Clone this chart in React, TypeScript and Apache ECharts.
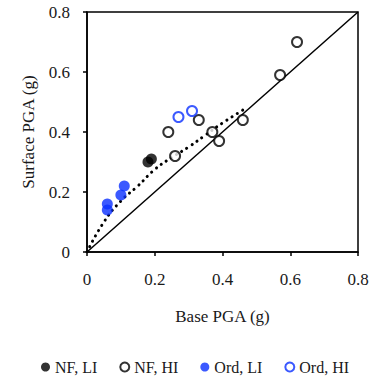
import React, { useEffect, useRef } from "react";
import * as echarts from "echarts";

const nfLI: number[][] = [[0.18, 0.30], [0.19, 0.31]];
const nfHI: number[][] = [
  [0.24, 0.40], [0.26, 0.32], [0.33, 0.44], [0.37, 0.40],
  [0.39, 0.37], [0.46, 0.44], [0.57, 0.59], [0.62, 0.70],
];
const ordLI: number[][] = [[0.06, 0.14], [0.06, 0.16], [0.10, 0.19], [0.11, 0.22]];
const ordHI: number[][] = [[0.27, 0.45], [0.31, 0.47]];
const oneToOne: number[][] = [[0, 0], [0.8, 0.8]];
const trend: number[][] = [
  [0, 0], [0.05, 0.10], [0.1, 0.17], [0.15, 0.22], [0.2, 0.275],
  [0.25, 0.315], [0.3, 0.35], [0.35, 0.39], [0.4, 0.43], [0.47, 0.48],
];
const axisTicks = [0, 0.2, 0.4, 0.6, 0.8];

const FONT = "Liberation Serif";
const BLUE = "#0a30ff";
const TXT = "#1a1a1a";

export default function App() {
  const ref = useRef<HTMLDivElement>(null);
  useEffect(() => {
    if (!ref.current) return;
    document.body.style.margin = "0";
    const chart = echarts.init(ref.current, undefined, { renderer: "svg" });
    const axisCommon = {
      type: "value" as const,
      min: axisTicks[0],
      max: axisTicks[axisTicks.length - 1],
      interval: 0.2,
      splitLine: { show: false },
      axisLine: { show: true, onZero: false, lineStyle: { color: "#000", width: 1.5 } },
      axisTick: { show: true, inside: false, length: 4, lineStyle: { color: "#000", width: 1.5 } },
      nameLocation: "middle" as const,
      nameTextStyle: { fontFamily: FONT, fontSize: 17, color: TXT },
    };
    chart.setOption({
      animation: false,
      backgroundColor: "#fff",
      textStyle: { fontFamily: FONT },
      grid: {
        left: 87, right: 14, top: 12, bottom: 125,
        show: true, borderColor: "#000", borderWidth: 1.5,
      },
      xAxis: {
        ...axisCommon,
        name: "Base PGA (g)",
        nameGap: 56,
        axisLabel: {
          fontFamily: FONT, fontSize: 17, color: TXT, margin: 19,
          formatter: (v: number) => (v === 0 ? "0" : v.toFixed(1)),
        },
      },
      yAxis: {
        ...axisCommon,
        name: "Surface PGA (g)",
        nameGap: 50,
        axisLabel: {
          fontFamily: FONT, fontSize: 17, color: TXT, margin: 17,
          formatter: (v: number) => (v === 0 ? "0" : v.toFixed(1)),
        },
      },
      legend: {
        left: 36, top: 354,
        itemWidth: 9, itemHeight: 9, itemGap: 22,
        icon: "circle",
        textStyle: { fontFamily: FONT, fontSize: 16, color: TXT },
        data: ["NF, LI", "NF, HI", "Ord, LI", "Ord, HI"],
      },
      series: [
        {
          type: "line", data: oneToOne, symbol: "none", silent: true,
          lineStyle: { color: "#000", width: 1.5 }, z: 1,
        },
        {
          type: "line", data: trend, symbol: "none", smooth: true, silent: true,
          lineStyle: { color: "#000", width: 3, type: [0.1, 6], cap: "round" }, z: 1,
        },
        {
          name: "NF, LI", type: "scatter", data: nfLI, symbol: "circle", symbolSize: 11,
          itemStyle: { color: "#000" }, z: 3,
        },
        {
          name: "NF, HI", type: "scatter", data: nfHI, symbol: "circle", symbolSize: 10,
          itemStyle: { color: "#fff", borderColor: "#000", borderWidth: 2 }, z: 3,
        },
        {
          name: "Ord, LI", type: "scatter", data: ordLI, symbol: "circle", symbolSize: 11,
          itemStyle: { color: BLUE }, z: 3,
        },
        {
          name: "Ord, HI", type: "scatter", data: ordHI, symbol: "circle", symbolSize: 10,
          itemStyle: { color: "#fff", borderColor: BLUE, borderWidth: 2 }, z: 3,
        },
      ],
    });
    return () => chart.dispose();
  }, []);
  return (
    <div
      ref={ref}
      style={{ width: 372, height: 377, position: "absolute", left: 0, top: 0 }}
    />
  );
}
